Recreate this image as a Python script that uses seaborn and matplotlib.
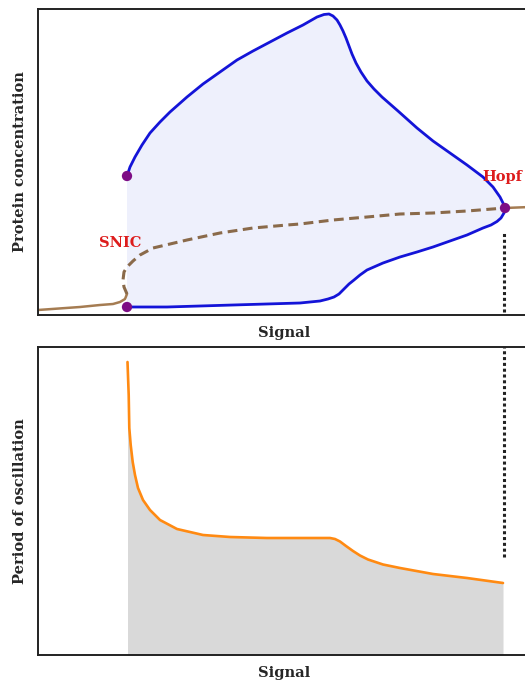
import numpy as np
import matplotlib
matplotlib.use("Agg")
import matplotlib.pyplot as plt
import seaborn as sns

# --- Bifurcation diagram (signal vs. protein concentration) ---
# upper envelope of the limit cycle (from SNIC to Hopf)
cycle_max_signal = [89, 92, 97, 104, 112, 122, 132, 149, 165, 182, 199, 215, 232, 249,
                    265, 279, 286, 291, 295, 299, 302, 305, 308, 311, 314, 318, 323,
                    329, 336, 344, 352, 360, 379, 395, 412, 429, 445, 455, 462, 466, 467]
cycle_max_conc = [139, 148, 158, 170, 182, 193, 203, 218, 231, 243, 255, 264, 273, 282,
                  290, 298, 300.5, 301, 299, 295, 290, 284, 277, 269, 261, 252, 243,
                  234, 226, 218, 211, 204, 187, 174, 162, 150, 138, 128, 118, 110, 107]
# lower envelope of the limit cycle (from Hopf back to SNIC)
cycle_min_signal = [467, 466, 463, 459, 453, 445, 429, 412, 395, 379, 362, 345, 329,
                    322, 316, 311, 306, 301, 296, 290, 282, 272, 262, 195, 129, 89]
cycle_min_conc = [107, 102, 97, 93.5, 90, 87, 80, 74, 68, 63, 58, 52, 45,
                  40, 35, 31, 26, 21, 18, 16, 14, 13, 12, 10, 8, 8]

# stable steady state before the SNIC
stable_low_signal = [0, 42, 62, 75, 82, 87, 89]
stable_low_conc = [5, 8, 10, 11, 13, 16, 21]
# unstable steady state between SNIC and Hopf
unstable_signal = [89, 86, 85, 86, 89, 95, 102, 115, 149, 182, 215, 249, 262,
                   295, 329, 362, 395, 429, 467]
unstable_conc = [21, 28, 35, 43, 48, 54, 60, 67, 75, 82, 87, 90, 91,
                 95, 98, 101, 102, 104, 107]
# stable steady state after the Hopf
stable_high_signal = [467, 492]
stable_high_conc = [107, 108]

# bifurcation points
bif_signal = [89, 89, 467]
bif_conc = [139, 8, 107]
hopf_signal = 467

# --- Period of oscillation ---
period_signal = [89.5, 90.7, 91.3, 92.7, 94.7, 97, 100, 105, 112, 122, 139, 165, 192,
                 229, 262, 292, 297, 302, 308, 315, 322, 330, 345, 362, 395, 429, 465]
period_value = [293, 260, 227, 210, 193, 180, 167, 155, 145, 135, 126, 120, 118,
                117, 117, 117, 116, 113.5, 109, 104, 99.5, 95.5, 90.5, 87, 81, 77, 72]

sns.set_theme(style="white")
plt.rcParams["font.family"] = ["DejaVu Serif"]

BLUE = "#1414d8"
BROWN = "#a57c52"
DASH_BROWN = "#8a6a4a"
PURPLE = "#7d0d85"
RED = "#dd1c1c"
ORANGE = "#ff8a12"
FS = 10.5

W, H = 525, 685
fig = plt.figure(figsize=(W / 100, H / 100), dpi=100)
ax1 = fig.add_axes([38 / W, (H - 315) / H, 492 / W, 306 / H])
ax2 = fig.add_axes([38 / W, (H - 655) / H, 492 / W, 308 / H])

# ---- top panel ----
loop_x = np.concatenate([cycle_max_signal, cycle_min_signal[1:]])
loop_y = np.concatenate([cycle_max_conc, cycle_min_conc[1:]])
ax1.fill(loop_x, loop_y, color="#eef0fc", lw=0, zorder=0)

sns.lineplot(x=stable_low_signal, y=stable_low_conc, sort=False, estimator=None,
             color=BROWN, lw=1.8, ax=ax1)
sns.lineplot(x=stable_high_signal, y=stable_high_conc, sort=False, estimator=None,
             color=BROWN, lw=1.8, ax=ax1)
sns.lineplot(x=unstable_signal, y=unstable_conc, sort=False, estimator=None,
             color=DASH_BROWN, lw=2.2, ax=ax1, linestyle=(0, (3.2, 1.8)))
sns.lineplot(x=loop_x, y=loop_y, sort=False, estimator=None,
             color=BLUE, lw=2.0, ax=ax1)
ax1.lines[-1].set_solid_joinstyle("round")
ax1.plot([hopf_signal - 1, hopf_signal - 1], [3, 83], color="#222222", lw=2.2,
         linestyle=(0, (1, 0.9)), zorder=3)
sns.scatterplot(x=bif_signal, y=bif_conc, color=PURPLE, s=55, edgecolor="none",
                ax=ax1, zorder=5)

ax1.text(82, 72, "SNIC", color=RED, fontsize=FS, fontweight="bold",
         ha="center", va="center")
ax1.text(464, 138, "Hopf", color=RED, fontsize=FS, fontweight="bold",
         ha="center", va="center")

ax1.set_xlim(0, 492)
ax1.set_ylim(0, 306)
ax1.set_xlabel("Signal", fontsize=FS, fontweight="bold", labelpad=8)
ax1.set_ylabel("Protein concentration", fontsize=FS, fontweight="bold", labelpad=8)

# ---- bottom panel ----
ax2.fill_between(period_signal, period_value, 0, color="#d9d9d9", lw=0, zorder=0)
sns.lineplot(x=period_signal, y=period_value, sort=False, estimator=None,
             color=ORANGE, lw=1.9, ax=ax2)
ax2.lines[-1].set_solid_joinstyle("round")
ax2.plot([hopf_signal - 1, hopf_signal - 1], [98, 308], color="#222222", lw=2.2,
         linestyle=(0, (1, 0.9)), zorder=3)
ax2.set_xlim(0, 492)
ax2.set_ylim(0, 308)
ax2.set_xlabel("Signal", fontsize=FS, fontweight="bold", labelpad=8)
ax2.set_ylabel("Period of oscillation", fontsize=FS, fontweight="bold", labelpad=8)

for ax in (ax1, ax2):
    ax.set_xticks([])
    ax.set_yticks([])
    for sp in ax.spines.values():
        sp.set_color("#222222")
        sp.set_linewidth(1.4)

fig.savefig("out.png", dpi=100)
